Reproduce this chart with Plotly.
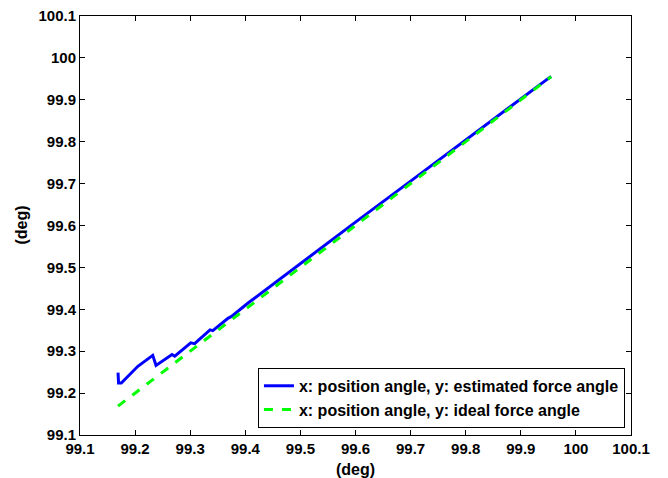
import plotly.graph_objects as go

est_x = [99.169, 99.170, 99.175, 99.205, 99.232, 99.238, 99.267, 99.272, 99.301, 99.308,
         99.336, 99.341, 99.368, 99.375, 99.405, 99.445, 99.5, 99.6, 99.7, 99.8, 99.9, 99.955]
est_y = [99.249, 99.224, 99.224, 99.264, 99.290, 99.266, 99.292, 99.288, 99.320, 99.318,
         99.351, 99.349, 99.378, 99.383, 99.415, 99.455, 99.509, 99.608, 99.706, 99.804, 99.902, 99.956]
ideal_x = [99.169, 99.955]
ideal_y = [99.169, 99.955]

tick_vals = [99.1, 99.2, 99.3, 99.4, 99.5, 99.6, 99.7, 99.8, 99.9, 100.0, 100.1]
tick_text = ["99.1", "99.2", "99.3", "99.4", "99.5", "99.6", "99.7", "99.8", "99.9", "100", "100.1"]
x_title = "(deg)"
y_title = "(deg)"

fig = go.Figure()
fig.add_trace(go.Scatter(x=est_x, y=est_y, mode="lines",
                         line=dict(color="#0000ff", width=3),
                         name="<b>x: position angle, y: estimated force angle</b>"))
fig.add_trace(go.Scatter(x=ideal_x, y=ideal_y, mode="lines",
                         line=dict(color="#00ff00", width=3, dash="dash"),
                         name="<b>x: position angle, y: ideal force angle</b>"))

bold_ticks = ["<b>%s</b>" % t for t in tick_text]
axis_common = dict(showgrid=False, zeroline=False, showline=True, linecolor="black", linewidth=1,
                   mirror="allticks", ticks="inside", ticklen=5, tickcolor="black",
                   tickvals=tick_vals, ticktext=bold_ticks, range=[99.1, 100.1], automargin=False,
                   tickfont=dict(size=15), ticklabeloverflow="allow")

# page body has an 8px margin; figure is sized so the plot area lands where the reference has it
fig.update_layout(
    width=660, height=470,
    margin=dict(l=72, r=37, t=8, b=43),
    paper_bgcolor="white", plot_bgcolor="white",
    font=dict(family="Liberation Sans, Arial, sans-serif", size=15, color="black"),
    xaxis=dict(**axis_common),
    yaxis=dict(**axis_common),
    legend=dict(x=0.989, y=0.017, xanchor="right", yanchor="bottom",
                bgcolor="white", bordercolor="black", borderwidth=1,
                font=dict(size=16), tracegroupgap=0),
    showlegend=True,
    annotations=[
        dict(text="<b>%s</b>" % x_title, xref="paper", yref="paper", x=0.5, y=-0.083,
             xanchor="center", yanchor="middle", showarrow=False, font=dict(size=16)),
        dict(text="<b>%s</b>" % y_title, xref="paper", yref="paper", x=-0.107, y=0.5,
             xanchor="center", yanchor="middle", textangle=-90, showarrow=False, font=dict(size=16)),
    ],
)

fig.write_html("out.html")
